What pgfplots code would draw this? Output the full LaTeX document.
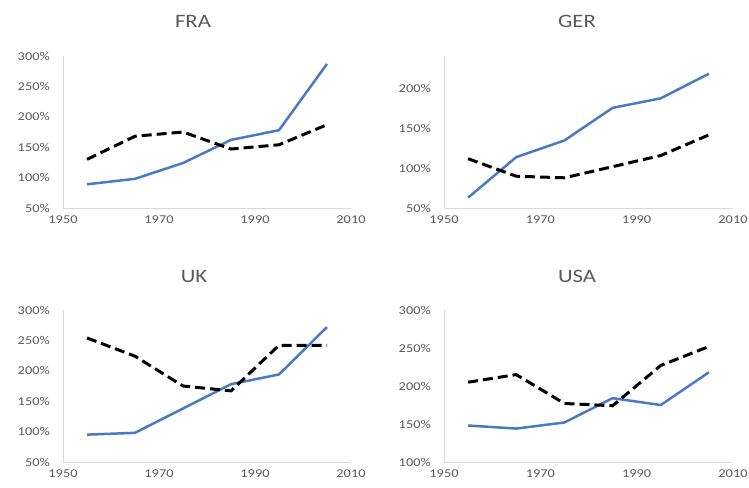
\documentclass[border=0pt]{standalone}
\usepackage{fontspec}
\setmainfont{Carlito}[FakeStretch=1.2]
\usepackage{pgfplots}
\pgfplotsset{compat=1.18}
\definecolor{serblue}{RGB}{74,122,196}
\definecolor{axgray}{RGB}{217,217,217}
\definecolor{txtgray}{RGB}{89,89,89}
\pgfplotsset{
  panel/.style={
    scale only axis, width=288bp, height=152bp,
    xmin=1950, xmax=2010,
    axis lines*=left,
    axis line style={draw=axgray, line width=1bp},
    xtick={1950,1970,1990,2010},
    major tick length=0pt,
    tick style={draw=none},
    /pgf/number format/assume math mode=true,
    /pgf/number format/1000 sep={},
    ticklabel style={font=\fontsize{12}{14}\selectfont, text=txtgray, inner sep=0pt},
    xticklabel style={anchor=center, yshift=-12bp},
    yticklabel style={anchor=east, xshift=-13bp},
    yticklabel={\pgfmathprintnumber{\tick}\%},
    clip=false,
  },
  blueline/.style={color=serblue, line width=2.5bp, no marks},
  dashline/.style={color=black, line width=3bp, no marks, dash pattern=on 10bp off 5bp},
}
\begin{document}
\begin{tikzpicture}
\path[use as bounding box] (0,0) rectangle (749bp,-488bp);
\tikzset{ttl/.style={font=\fontsize{19}{22}\selectfont, text=txtgray, inner sep=0pt}}
\node[ttl] at (193bp,-21bp) {FRA};
\node[ttl] at (577bp,-21bp) {GER};
\node[ttl] at (194bp,-276bp) {UK};
\node[ttl] at (577bp,-276bp) {USA};
% FRA
\begin{axis}[panel, at={(63bp,-208bp)}, anchor=south west,
  ymin=50, ymax=300, ytick={50,100,...,300}]
\addplot[blueline] coordinates {(1955,89) (1965,98) (1975,124) (1985,162) (1995,178) (2005,287)};
\addplot[dashline] coordinates {(1955,130) (1965,168) (1975,175) (1985,147) (1995,154) (2005,187)};
\end{axis}
% GER
\begin{axis}[panel, at={(444bp,-208bp)}, anchor=south west, width=289bp, height=151bp,
  ymin=50, ymax=240, ytick={50,100,...,200}]
\addplot[blueline] coordinates {(1955,63) (1965,114) (1975,135) (1985,176) (1995,188) (2005,219)};
\addplot[dashline] coordinates {(1955,112) (1965,90) (1975,88) (1985,102) (1995,116) (2005,142)};
\end{axis}
% UK
\begin{axis}[panel, at={(63bp,-462bp)}, anchor=south west,
  ymin=50, ymax=300, ytick={50,100,...,300}]
\addplot[blueline] coordinates {(1955,95) (1965,98) (1975,138) (1985,178) (1995,194) (2005,272)};
\addplot[dashline] coordinates {(1955,254) (1965,224) (1975,175) (1985,167) (1995,242) (2005,242)};
\end{axis}
% USA
\begin{axis}[panel, at={(444bp,-462bp)}, anchor=south west, width=289bp,
  ymin=100, ymax=300, ytick={100,150,...,300}]
\addplot[blueline] coordinates {(1955,148) (1965,144) (1975,152) (1985,184) (1995,175) (2005,218)};
\addplot[dashline] coordinates {(1955,205) (1965,215) (1975,177) (1985,174) (1995,227) (2005,252)};
\end{axis}
\end{tikzpicture}
\end{document}
